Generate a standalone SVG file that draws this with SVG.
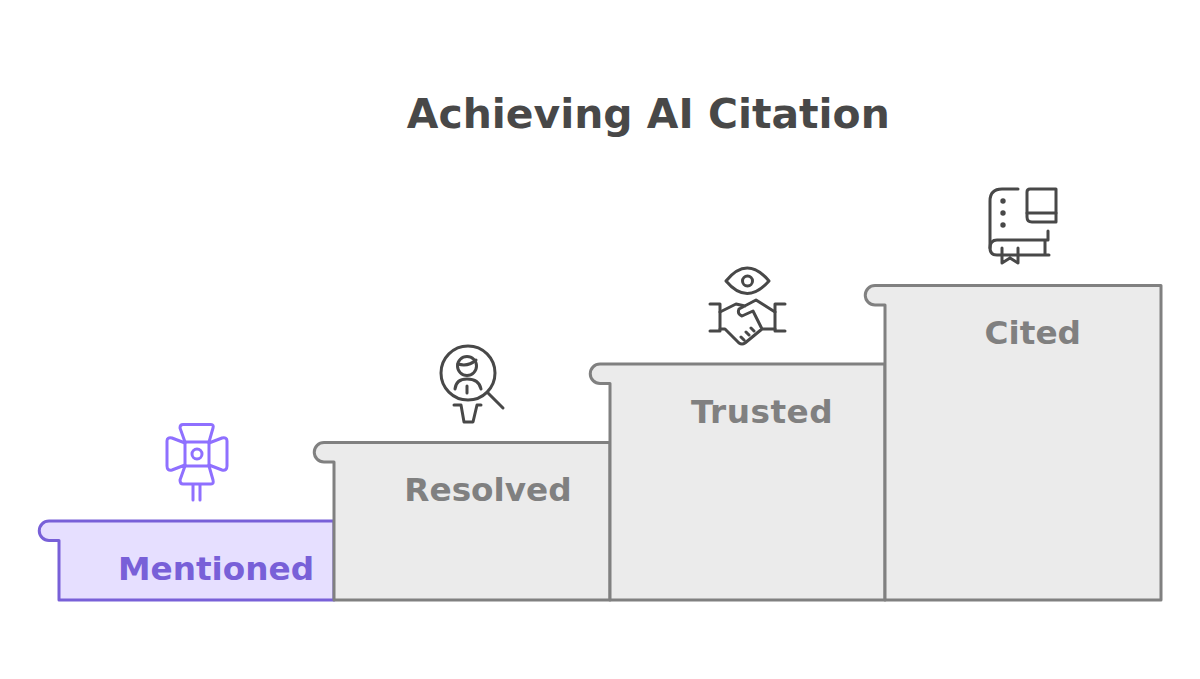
<svg xmlns="http://www.w3.org/2000/svg" width="1200" height="679" viewBox="0 0 1200 679">
<style>
text{font-family:"DejaVu Sans",sans-serif;font-weight:700}
.step{stroke-width:3;stroke-linejoin:round;fill:#ebebeb;stroke:#808080}
.lbl{font-size:32.700px;fill:#808080;text-anchor:middle}
.ico{fill:none;stroke:#484848;stroke-width:3;stroke-linecap:round;stroke-linejoin:round}
.ico circle.d{fill:#484848;stroke:none}
</style>
<rect width="1200" height="679" fill="#fff"/>
<text id="title" x="648.300" y="128" font-size="40.900" fill="#484848" text-anchor="middle">Achieving AI Citation</text>
<g id="step-mentioned">
<path d="M59 600V540.500H49A9.750 9.750 0 0 1 49 521H334V600Z" fill="#e6dfff" stroke="#7860d8" stroke-width="3" stroke-linejoin="round"/>
<text x="216" y="580" font-size="32.700" fill="#7860d8" text-anchor="middle">Mentioned</text>
<g fill="none" stroke="#8f70ff" stroke-width="3" stroke-linecap="round" stroke-linejoin="round"><rect x="185" y="442" width="24" height="24"/><circle cx="197" cy="454" r="5"/><path d="M185 442L180 428Q180 424.500 183 424.500H211Q214 424.500 213 428L209 442M185 466L180 480Q180 484 183 484H211Q214 484 213 480L209 466M185 443L172 438Q167 437 167 441V466Q167 471 172 470L185 465M209 443L222 438Q227 437 227 441V466Q227 471 222 470L209 465M193 484V500M200 484V500"/></g>
</g>
<g id="step-resolved">
<path class="step" d="M334 600V462H324A9.750 9.750 0 0 1 324 442.500H610V600Z"/>
<text class="lbl" x="488" y="501">Resolved</text>
<g class="ico"><circle cx="468" cy="373" r="27"/><circle cx="467" cy="366" r="9.500"/><path d="M458 364Q468 367 476 360M455 389Q456 379 467 379Q479 379 481 389M467 386V393M488 393L503 408M454 405H461L464 422H473L477 405H481"/></g>
</g>
<g id="step-trusted">
<path class="step" d="M610 600V383.500H600A9.750 9.750 0 0 1 600 364H885V600Z"/>
<text class="lbl" x="762" y="423" letter-spacing="0.500">Trusted</text>
<g class="ico"><path d="M726 281Q747 255 769 281Q747 306 726 281Z"/><circle cx="747.500" cy="281" r="5"/><path d="M710 304H720M710 331H720M775 304H785M775 331H785M720 304V331M775 304V331"/><path d="M775 312L756 300L739 309Q737 314 742 316L753 311L762 329H775M720 312L736 304L745 306M720 329H725L739 343Q742 345 745 343L762 329M741 337L744 340M746 332L749 335M751 328L754 331"/></g>
</g>
<g id="step-cited">
<path class="step" d="M885 600V305H875A9.750 9.750 0 0 1 875 285.500H1161V600Z"/>
<text class="lbl" x="1032.800" y="344">Cited</text>
<g class="ico"><path d="M1018 189H1002Q990 189 990 201V248"/><circle class="d" cx="1003" cy="201" r="2.700"/><circle class="d" cx="1003" cy="213" r="2.700"/><circle class="d" cx="1003" cy="225" r="2.700"/><path d="M1030 189H1056V222H1032Q1027 222 1027 217V192Q1027 189 1030 189Z"/><path d="M1027 213H1056M1048 231V240H997Q990 240 990 248Q990 255 997 255H1049M1045 240V255M1002 248V263L1010 258L1018 263V248"/></g>
</g>
</svg>
